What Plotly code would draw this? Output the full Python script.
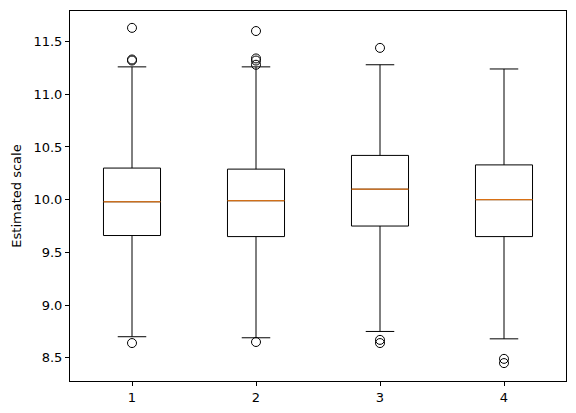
import plotly.graph_objects as go

positions = [1, 2, 3, 4]
q1 = [9.66, 9.65, 9.75, 9.65]
median = [9.98, 9.99, 10.10, 10.00]
q3 = [10.30, 10.29, 10.42, 10.33]
lower = [8.70, 8.69, 8.75, 8.68]
upper = [11.26, 11.26, 11.28, 11.24]
outliers = [
    [11.63, 11.33, 11.32, 8.64],
    [11.60, 11.34, 11.32, 11.28, 8.65],
    [11.44, 8.67, 8.64],
    [8.49, 8.45],
]
box_width = 0.46

fig = go.Figure()
fig.add_trace(go.Box(
    x=positions, q1=q1, median=median, q3=q3,
    lowerfence=lower, upperfence=upper,
    boxpoints=False, width=box_width, whiskerwidth=0.5,
    fillcolor="rgba(0,0,0,0)", line=dict(color="black", width=1),
    hoverinfo="skip",
))

# orange median lines, drawn over the boxes
mx, my = [], []
for p, m in zip(positions, median):
    mx += [p - box_width / 2, p + box_width / 2, None]
    my += [m, m, None]
fig.add_trace(go.Scatter(x=mx, y=my, mode="lines",
                         line=dict(color="#ff7f0e", width=1)))

ox, oy = [], []
for p, vals in zip(positions, outliers):
    ox += [p] * len(vals)
    oy += vals
fig.add_trace(go.Scatter(x=ox, y=oy, mode="markers",
                         marker=dict(symbol="circle-open", size=9, color="black", line=dict(width=1))))

axis_style = dict(showline=True, linecolor="black", linewidth=1, mirror=True,
                  ticks="outside", ticklen=4, tickcolor="black", showgrid=False,
                  zeroline=False, tickfont=dict(family="DejaVu Sans", size=13, color="black"))
fig.update_xaxes(range=[0.5, 4.5], tickvals=positions, **axis_style)
fig.update_yaxes(range=[8.28, 11.79], dtick=0.5, tickformat=".1f",
                 title=dict(text="Estimated scale", font=dict(family="DejaVu Sans", size=13, color="black"), standoff=8),
                 **axis_style)
fig.update_layout(width=576, height=413, margin=dict(l=62, r=18, t=3, b=40, autoexpand=False),
                  plot_bgcolor="white", paper_bgcolor="white", showlegend=False)

fig.write_html("out.html")
